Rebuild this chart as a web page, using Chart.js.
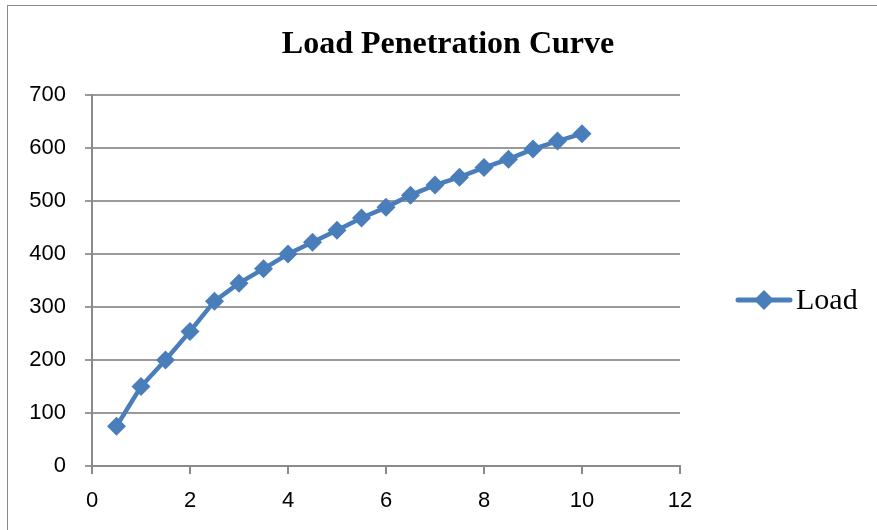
<!DOCTYPE html>
<html>
<head>
<meta charset="utf-8">
<script src="https://cdn.jsdelivr.net/npm/chart.js@4.4.0/dist/chart.umd.min.js"></script>
<style>
  html, body { margin: 0; padding: 0; background: #fff; overflow: hidden; }
  #wrap { position: relative; width: 877px; height: 530px; }
  #frame { position: absolute; left: 7px; top: 5px; width: 900px; height: 600px; border: 1px solid #8a8a8a; }
  #myChart { position: absolute; left: 0; top: 0; }
</style>
</head>
<body>
<div id="wrap">
  <div id="frame"></div>
  <canvas id="myChart" width="877" height="530"></canvas>
</div>
<script>
// 차트 데이터
const chartTitle = 'Load Penetration Curve';
const seriesName = 'Load';
const penetration = [0.5, 1, 1.5, 2, 2.5, 3, 3.5, 4, 4.5, 5, 5.5, 6, 6.5, 7, 7.5, 8, 8.5, 9, 9.5, 10];
const load = [75, 150, 200, 254, 311, 345, 372, 400, 422, 445, 468, 488, 511, 530, 545, 563, 579, 598, 613, 627];
const xTicks = [0, 2, 4, 6, 8, 10, 12];
const yTicks = [0, 100, 200, 300, 400, 500, 600, 700];

const blue = '#4a7ebb';
const tickFont = { family: '"Liberation Sans Narrow", "Liberation Sans"', size: 22 };

// 제목과 범례 그리기
const overlayPlugin = {
  id: 'overlay',
  afterDraw(chart) {
    const ctx = chart.ctx;
    ctx.save();
    ctx.fillStyle = '#000';
    ctx.textBaseline = 'middle';
    ctx.textAlign = 'center';
    ctx.font = 'bold 32px "Liberation Serif"';
    ctx.fillText(chartTitle, 448, 45);

    // legend: line + diamond
    ctx.strokeStyle = blue;
    ctx.lineWidth = 5;
    ctx.lineCap = 'round';
    ctx.beginPath();
    ctx.moveTo(738, 300);
    ctx.lineTo(790, 300);
    ctx.stroke();
    ctx.fillStyle = blue;
    ctx.beginPath();
    ctx.moveTo(764, 290);
    ctx.lineTo(774, 300);
    ctx.lineTo(764, 310);
    ctx.lineTo(754, 300);
    ctx.closePath();
    ctx.fill();

    ctx.fillStyle = '#000';
    ctx.textAlign = 'left';
    ctx.font = '30px "Liberation Serif"';
    ctx.fillText(seriesName, 796, 301);
    ctx.restore();
  }
};

const chart = document.getElementById('myChart').getContext('2d');
new Chart(chart, {
  type: 'line',
  data: {
    datasets: [{
      label: seriesName,
      data: penetration.map((x, i) => ({ x: x, y: load[i] })),
      borderColor: blue,
      backgroundColor: blue,
      borderWidth: 4.5,
      pointStyle: 'rectRot',
      pointRadius: 9.5,
      pointBorderWidth: 0,
      tension: 0,
      clip: false
    }]
  },
  options: {
    responsive: false,
    animation: false,
    devicePixelRatio: 1,
    layout: { padding: { left: 10, top: 95, right: 197, bottom: 10 } },
    plugins: {
      legend: { display: false },
      title: { display: false },
      tooltip: { enabled: false }
    },
    scales: {
      x: {
        type: 'linear',
        min: 0,
        max: 12,
        afterBuildTicks: (scale) => { scale.ticks = xTicks.map(v => ({ value: v })); },
        afterFit: (scale) => { scale.height = 54; },
        ticks: { color: '#000', font: tickFont, padding: 14 },
        grid: { drawOnChartArea: false, drawTicks: true, tickLength: 8, color: '#8a8a8a', lineWidth: 2 },
        border: { color: '#8a8a8a', width: 2 }
      },
      y: {
        min: 0,
        max: 700,
        afterBuildTicks: (scale) => { scale.ticks = yTicks.map(v => ({ value: v })); },
        afterFit: (scale) => { scale.width = 82; },
        ticks: { color: '#000', font: tickFont, padding: 19 },
        grid: { color: '#9a9a9a', lineWidth: 2, tickLength: 7 },
        border: { color: '#8a8a8a', width: 2 }
      }
    }
  },
  plugins: [overlayPlugin]
});
</script>
</body>
</html>
